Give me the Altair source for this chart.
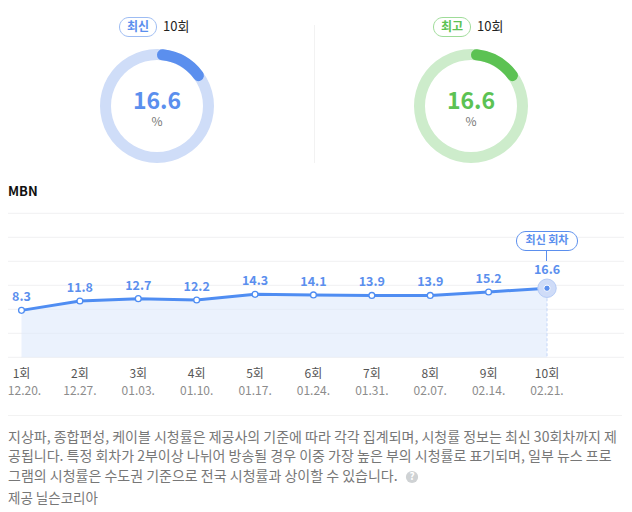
import altair as alt
import pandas as pd

FONT = "Noto Sans CJK KR"
BLUE = "#5b8fee"
LINE = "#4f8df2"
GREEN = "#5cc253"
OX = 8  # page margin, left
OY = 8  # page margin, top

episodes = ["1회", "2회", "3회", "4회", "5회", "6회", "7회", "8회", "9회", "10회"]
dates = ["12.20.", "12.27.", "01.03.", "01.10.", "01.17.", "01.24.", "01.31.", "02.07.", "02.14.", "02.21."]
ratings = [8.3, 11.8, 12.7, 12.2, 14.3, 14.1, 13.9, 13.9, 15.2, 16.6]
grid_values = [-9.3, -0.3, 8.7, 17.7, 26.7, 35.7, 44.7]
gauge_value = 16.6
notes = [
    "지상파, 종합편성, 케이블 시청률은 제공사의 기준에 따라 각각 집계되며, 시청률 정보는 최신 30회차까지 제",
    "공됩니다. 특정 회차가 2부이상 나뉘어 방송될 경우 이중 가장 높은 부의 시청률로 표기되며, 일부 뉴스 프로",
    "그램의 시청률은 수도권 기준으로 전국 시청률과 상이할 수 있습니다.",
]
source_note = "제공 닐슨코리아"

df = pd.DataFrame({"ep": episodes, "date": dates, "r": ratings})
last = df.tail(1)
grid_df = pd.DataFrame({"g": grid_values})

X = alt.X("ep:N", sort=episodes, axis=None,
          scale=alt.Scale(type="point", range=[21.5 - OX, 547 - OX], padding=0))
Y_SCALE = alt.Scale(domain=[-9.3, 44.7], range=[357.3 - OY, 213.3 - OY], nice=False, zero=False)
Y = alt.Y("r:Q", axis=None, scale=Y_SCALE)
one = pd.DataFrame({"a": [0]})


def txt(s, x, y, size=13, color="#777777", align="left", weight="normal"):
    return alt.Chart(pd.DataFrame({"t": [s]})).mark_text(
        font=FONT, fontSize=size, color=color, align=align, baseline="middle", fontWeight=weight
    ).encode(text="t:N", x=alt.value(x - OX), y=alt.value(y - OY))


def pill(x1, x2, y1, y2, stroke):
    return alt.Chart(one).mark_rect(
        fill="white", stroke=stroke, strokeWidth=1, cornerRadius=(y2 - y1) / 2
    ).encode(x=alt.value(x1 - OX), x2=alt.value(x2 - OX), y=alt.value(y1 - OY), y2=alt.value(y2 - OY))


def rule(x1, x2, y1, y2, color, width=1):
    return alt.Chart(one).mark_rule(color=color, strokeWidth=width).encode(
        x=alt.value(x1 - OX), x2=alt.value(x2 - OX), y=alt.value(y1 - OY), y2=alt.value(y2 - OY))


def gauge(cx, cy, value, main, pale):
    theta_scale = alt.Scale(domain=[0, 100], range=[0, 6.2831])
    d = pd.DataFrame({"s": [0], "v": [value]})
    bg = alt.Chart(one).mark_arc(radius=57, radius2=46, color=pale, theta=0, theta2=6.2831).encode(
        x=alt.value(cx - OX), y=alt.value(cy - OY))
    fg = alt.Chart(d).mark_arc(radius=57, radius2=46, color=main, cornerRadius=5.5).encode(
        theta=alt.Theta("s:Q", scale=theta_scale, stack=None), theta2="v:Q",
        x=alt.value(cx - OX), y=alt.value(cy - OY))
    return [bg, fg]


layers = []
layers += gauge(157, 106, gauge_value, BLUE, "#cfddf8")
layers += gauge(471, 106, gauge_value, GREEN, "#cdeccb")
layers += [
    pill(119.5, 156.5, 17.5, 36.5, "#9dbcf3"),
    txt("최신", 138, 26.5, 12, BLUE, "center", "bold"),
    txt("10회", 163, 27, 13, "#222222"),
    pill(433.5, 470.5, 17.5, 36.5, "#9edc98"),
    txt("최고", 452, 26.5, 12, GREEN, "center", "bold"),
    txt("10회", 477, 27, 13, "#222222"),
    txt(f"{gauge_value}", 157, 102, 23, BLUE, "center", "bold"),
    txt("%", 157, 122, 12, "#777777", "center"),
    txt(f"{gauge_value}", 471, 102, 23, GREEN, "center", "bold"),
    txt("%", 471, 122, 12, "#777777", "center"),
    rule(314.5, 314.5, 25, 163, "#f2f2f2"),
    txt("MBN", 8, 192, 13, "#111111", "left", "bold"),
]

layers.append(alt.Chart(grid_df).mark_rule(color="#f0f0f2", strokeWidth=1).encode(
    y=alt.Y("g:Q", axis=None, scale=Y_SCALE), x=alt.value(0), x2=alt.value(625 - OX)))

layers.append(alt.Chart(df).mark_area(color="#dbe7fb", opacity=0.55).encode(
    x=X, y=Y, y2=alt.Y2(datum=-9.3)))
layers.append(alt.Chart(last).mark_rule(color="#c3d6f8", strokeDash=[3, 2], strokeWidth=1).encode(
    x=X, y=Y, y2=alt.Y2(datum=-9.3)))
layers.append(alt.Chart(df).mark_line(color=LINE, strokeWidth=3).encode(x=X, y=Y))
layers.append(alt.Chart(df.head(9)).mark_point(
    filled=True, fill="white", stroke=LINE, strokeWidth=1.3, size=34, opacity=1).encode(x=X, y=Y))
layers.append(alt.Chart(last).mark_point(
    filled=True, fill="#cfdcf8", stroke="#b5cbf6", strokeWidth=1, size=340, opacity=1).encode(x=X, y=Y))
layers.append(alt.Chart(last).mark_point(
    filled=True, fill=BLUE, stroke="white", strokeWidth=1, size=40, opacity=1).encode(x=X, y=Y))

layers.append(alt.Chart(df.head(9)).mark_text(
    font=FONT, fontSize=12.5, fontWeight="bold", color=BLUE, dy=-13, baseline="middle"
).encode(x=X, y=Y, text=alt.Text("r:Q", format=".1f")))
layers.append(alt.Chart(last).mark_text(
    font=FONT, fontSize=12.5, fontWeight="bold", color=BLUE, dy=-18, baseline="middle"
).encode(x=X, y=Y, text=alt.Text("r:Q", format=".1f")))

layers.append(alt.Chart(df).mark_text(font=FONT, fontSize=12, color="#555555", baseline="middle").encode(
    x=X, y=alt.value(373.5 - OY), text="ep:N"))
layers.append(alt.Chart(df.tail(9)).mark_text(font=FONT, fontSize=12, color="#8c8c8c", baseline="middle").encode(
    x=X, y=alt.value(390.5 - OY), text="date:N"))
# first date sits against the page margin, so it is nudged to stay whole
layers.append(alt.Chart(df.head(1)).mark_text(font=FONT, fontSize=12, color="#8c8c8c", baseline="middle", dx=3).encode(
    x=X, y=alt.value(390.5 - OY), text="date:N"))

layers += [
    rule(546.5, 546.5, 251, 261, BLUE),
    pill(516.5, 577.5, 231.5, 250.5, BLUE),
    txt("최신 회차", 547, 241, 11, BLUE, "center", "bold"),
]

layers.append(rule(8, 622, 415.5, 415.5, "#f2f2f2"))
for line, y in zip(notes, [438, 457, 477]):
    layers.append(txt(line, 8, y, 14, "#777777"))
layers.append(alt.Chart(one).mark_point(filled=True, fill="#cfd2d4", opacity=1, size=150).encode(
    x=alt.value(412 - OX), y=alt.value(477 - OY)))
layers.append(txt("?", 412, 477, 10, "white", "center", "bold"))
layers.append(txt(source_note, 8, 499, 13.5, "#777777"))

chart = alt.layer(*layers).properties(
    width=616, height=503, padding=0,
    autosize=alt.AutoSizeParams(type="none"),
).configure_view(stroke=None)

chart.save("out.html", embed_options={"renderer": "svg", "actions": False})
